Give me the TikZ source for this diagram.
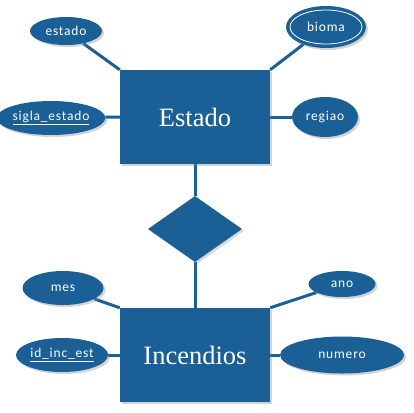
\documentclass[tikz,border=0pt]{standalone}
\usepackage{fontspec}
\setmainfont{Liberation Serif}
\newfontfamily\attrfont[LetterSpace=6]{Carlito}
\usetikzlibrary{shapes.geometric,shadows,backgrounds}
\definecolor{erblue}{RGB}{26,95,150}
\tikzset{
  entity/.style={rectangle,fill=erblue,minimum width=150pt,minimum height=94pt,inner sep=0pt,
    text=white,font=\fontsize{26.5}{29}\selectfont,
    drop shadow={opacity=0.35,shadow xshift=2pt,shadow yshift=-2pt}},
  rel/.style={diamond,fill=erblue,minimum width=94pt,minimum height=66pt,inner sep=0pt,
    drop shadow={opacity=0.3,shadow xshift=2pt,shadow yshift=-2pt}},
  attr/.style={ellipse,fill=erblue,inner sep=0pt,text=white,
    font=\attrfont\fontsize{13.5}{15}\selectfont,
    drop shadow={opacity=0.35,shadow xshift=2pt,shadow yshift=-2pt}},
  conn/.style={draw=erblue,line width=3pt}
}
\begin{document}
\begin{tikzpicture}[x=1pt,y=-1pt]
\useasboundingbox (0,0) rectangle (414,412);
\node[entity] (Estado) at (195,117) {Estado};
\node[rel] (rel) at (195,229) {};
\node[entity] (Incendios) at (195,355) {Incendios};
\node[attr,minimum width=72pt,minimum height=28pt] (estado) at (66,31) {estado};
\node[attr,minimum width=80pt,minimum height=42pt] (bioma) at (326,27) {bioma};
\draw[white,line width=0.8pt] (bioma.center) ellipse [x radius=36pt,y radius=17pt];
\node[attr,minimum width=94pt,minimum height=34pt] (sigla) at (51,118) {\underline{sigla\_estado}};
\node[attr,minimum width=66pt,minimum height=40pt] (regiao) at (325,117) {regiao};
\node[attr,minimum width=81pt,minimum height=34pt] (mes) at (63,288) {mes};
\node[attr,minimum width=67pt,minimum height=26pt] (ano) at (342,284) {ano};
\node[attr,minimum width=92pt,minimum height=34pt] (idinc) at (62,355) {\underline{id\_inc\_est}};
\node[attr,minimum width=124pt,minimum height=37pt] (numero) at (342,355) {numero};
\begin{scope}[on background layer]
\draw[conn] (estado) -- (Estado.north west);
\draw[conn] (bioma) -- (Estado.north east);
\draw[conn] (sigla) -- (Estado.west);
\draw[conn] (regiao) -- (Estado.east);
\draw[conn] (Estado.south) -- (rel.north);
\draw[conn] (rel.south) -- (Incendios.north);
\draw[conn] (mes) -- (Incendios.north west);
\draw[conn] (ano) -- (Incendios.north east);
\draw[conn] (idinc) -- (Incendios.west);
\draw[conn] (numero) -- (Incendios.east);
\end{scope}
\end{tikzpicture}
\end{document}
